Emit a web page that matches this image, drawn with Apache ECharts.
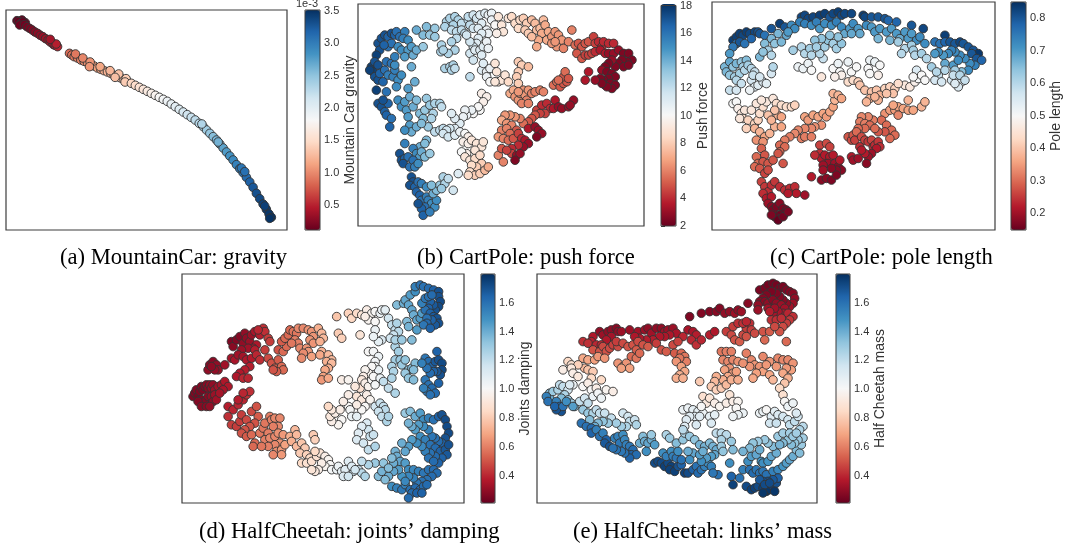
<!DOCTYPE html>
<html><head><meta charset="utf-8">
<script src="https://cdn.jsdelivr.net/npm/echarts@6/dist/echarts.min.js"></script>
<style>html,body{margin:0;padding:0;background:#fff}#c{width:1065px;height:543px}</style>
</head><body><div id="c"></div>
<script>
// RdBu colormap (low = red, high = blue)
const RDBU = ['#67001f','#b2182b','#d6604d','#f4a582','#fddbc7','#f7f7f7','#d1e5f0','#92c5de','#4393c3','#2166ac','#053061'];

// ---- data: [embedding x, embedding y, parameter value] ----
const mountainCarGravity = [
[50,62,0.11],[65,60,0.12],[75,68,0.14],[55,65,0.12],[62,70,0.13],[68,66,0.12],[58,75,0.15],[72,74,0.16],[80,80,0.18],[88,85,0.2],[96,90,0.23],[104,96,0.26],[112,100,0.28],[120,106,0.3],[128,110,0.32],[136,116,0.35],[144,120,0.38],[150,126,0.4],[160,134,0.44],[158,130,0.43],[165,136,0.46],[172,140,0.5],[168,132,0.48],[150,118,0.39],
[208,160,0.85],[215,165,0.88],[222,170,0.9],[232,174,0.93],[242,180,0.97],[252,184,1.0],[262,188,1.03],[272,194,1.06],[282,198,1.1],[292,204,1.13],[302,208,1.16],[312,212,1.19],[322,216,1.22],[332,220,1.25],[342,226,1.28],[352,230,1.31],[362,234,1.34],[372,240,1.37],[382,244,1.4],
[226,162,0.91],[248,174,0.98],[270,186,1.05],[300,200,1.15],[330,212,1.24],[356,222,1.32],[378,236,1.39],[268,200,1.06],[345,232,1.3],[375,246,1.38],
[394,250,1.45],[406,256,1.5],[418,262,1.55],[430,268,1.6],[442,274,1.65],[454,280,1.7],[466,286,1.75],[478,292,1.8],[490,298,1.85],[502,304,1.9],[514,312,1.95],[526,320,2.0],[538,328,2.05],[550,336,2.1],[562,344,2.15],[574,352,2.2],[586,360,2.25],[598,370,2.3],[610,380,2.36],[620,390,2.42],[630,400,2.48],[640,410,2.54],[650,420,2.6],[660,432,2.66],[670,444,2.72],[680,456,2.78],[690,468,2.84],[700,480,2.9],[710,494,2.96],[720,506,3.02],[730,518,3.08],[740,532,3.14],[750,546,3.2],[760,562,3.26],[770,580,3.31],[780,596,3.36],[790,612,3.4],[800,628,3.44],[808,642,3.47],[815,652,3.5],
[606,372,2.33],[655,426,2.63],[725,504,3.05],[735,515,3.1],[795,618,3.42],[810,655,3.5]
];

const cartPolePushForce = [
[70,130,17],[80,115,17],[90,105,17],[100,110,16.5],[110,100,17],[120,105,16.5],[125,95,16],[135,110,16],[150,95,15.5],[145,115,15.5],[160,120,15],[100,140,16],[110,130,16],[75,150,17],[88,135,16.5],[65,165,17.5],
[50,200,17.5],[55,215,17.5],[45,210,17.5],[60,185,17],[70,195,17],[60,230,17],[70,240,17],[65,270,17.5],[85,245,16.5],[75,220,16.5],[90,210,16],[95,185,16],[110,190,16],[100,225,15.5],[115,230,15.5],[120,210,15.5],
[130,240,15],[140,225,15],[125,260,15],[95,275,16],[120,195,15],[130,140,15],[140,150,15],[120,170,15.5],[160,150,14.5],[150,170,14.5],[175,165,14],[170,140,14.5],[185,150,14],[170,200,14],[180,245,14],[160,265,14.5],
[185,90,14],[205,140,13],[205,105,13.5],[215,80,13.5],[225,105,13],[240,85,13],[240,110,13],[258,155,12.5],[260,135,12.5],
[70,310,17],[80,320,17],[90,335,16.5],[95,345,16.5],[100,310,16.5],[110,355,16],[105,380,16.5],[85,300,17],
[130,300,15],[140,320,15],[150,305,14.5],[155,330,14.5],[160,350,14.5],[165,375,14.5],[170,395,14],[185,380,14],[150,390,15],[175,320,14],[165,290,14],[185,300,13.5],[195,340,13.5],[210,330,13],[205,355,13.5],[215,295,13],[225,315,13],[235,340,12.5],[220,380,13],[200,370,13.5],[240,310,12.5],[255,310,12.5],[260,320,12],[230,355,12.5],[240,395,12],[255,390,12],[265,385,12],[215,420,13.5],[195,440,14],[210,430,13.5],
[150,430,15.5],[135,460,17],[140,480,17],[150,475,16.5],[160,470,16],[145,490,17],[165,500,16],[175,445,15.5],[185,460,15],[195,470,14.5],[200,455,14],[175,480,16],[180,500,15.5],[190,490,15],[210,470,13.5],[225,460,13],[170,530,17],[175,545,17],[165,555,17],[180,560,16.5],[190,545,16],[200,550,15.5],[185,575,16.5],[195,585,16.5],[200,600,16],[215,590,15.5],[220,600,15.5],[230,610,15],[240,620,15],[245,600,15],[210,620,16],[200,625,16.5],[190,610,17],[205,645,16.5],[225,635,15.5],[235,580,14],[245,570,13.5],[255,555,13],[265,530,12.5],[270,550,12.5],[215,560,15],[230,555,13.5],[260,565,13],[280,535,12],[295,570,11.5],
[275,65,12.5],[285,55,12.5],[300,50,12.5],[310,60,12.5],[320,70,12],[295,75,12.5],[270,80,12.5],[290,90,12],[305,95,12],[320,90,12],[330,100,12],[340,60,12],[345,75,12],[355,85,11.5],[340,50,12],[355,45,11.5],[365,55,11.5],[375,45,11],[380,70,11],[370,85,11],[390,40,11],[400,45,10.5],[410,40,10.5],[410,60,10.5],[420,75,10],[395,90,10.5],[400,100,10.5],[380,100,11],[370,115,11],[365,130,11],[355,140,11.5],[345,125,11.5],[335,105,11.5],[305,115,12],[290,125,12.5],[300,150,12.5],[280,160,12.5],[265,150,12.5],[345,160,11.5],[360,150,11],[375,150,11],[385,140,11],[395,125,10.5],[400,145,10.5],[380,165,11],[355,180,11.5],
[270,205,12.5],[285,200,12.5],[295,195,12.5],[290,210,12.5],[300,205,12],[345,230,12],
[380,210,11],[385,190,11],[395,215,10.5],[405,205,10.5],[395,230,10.5],[405,245,10],
[430,50,9],[440,75,9],[445,95,9],[425,100,9.5],[460,55,9],[470,50,8.5],[480,70,8.5],[490,85,8.5],[495,60,8.5],[505,55,8],[515,70,8],[510,90,8],[520,100,8],[530,60,7.5],[540,70,7.5],[545,90,7.5],[555,85,7.5],[560,100,7],[550,120,7],[565,60,7.5],[570,75,7],[580,95,7],[575,120,7],[545,140,7],[590,110,6.5],[600,95,6.5],[610,105,6.5],[620,120,6.5],[605,140,6.5],[625,145,6],[640,125,6],[650,90,6],[660,135,5.5],[590,130,6.5],[600,125,6.5],[530,110,7.5],
[670,130,5],[680,140,5],[690,130,5],[700,125,5],[715,110,4.5],[720,130,4.5],[730,125,4],[740,140,4],[745,125,4],[760,130,4],[775,130,4],[665,160,5],[680,175,5],[690,165,4.5],[700,165,4.5],[710,160,4.5],[720,155,4],[735,150,3.5],[750,160,3.5],[760,160,3],[775,160,3],[790,150,3],[805,160,2.5],[820,160,2.5],[830,180,2.5],[815,185,2.5],[800,180,2.5],[790,190,2.5],[805,200,2.5],[820,195,2.5],[780,200,2.5],[770,180,3],[760,190,2.5],[750,200,2.5],[740,210,3],[755,215,2.5],[770,220,2.5],[780,230,2.5],[760,235,2.5],[745,240,2.5],[735,235,2.5],[750,255,2.5],[765,250,2.5],[780,255,2.5],[770,265,2.5],[755,260,2.5],[740,250,2.5],[700,215,3.5],[690,240,3.5],[720,240,3],
[420,190,9],[425,215,9],[430,245,9],[440,240,9],[450,225,9],[460,245,8.5],[420,245,9],[490,185,8],[500,195,8],[520,200,7.5],[490,215,8],[485,230,8],[490,250,8],
[380,280,9.5],[395,290,9.5],[385,305,9.5],[375,330,10],[370,320,10],[355,340,10],[350,330,10.5],[335,345,10.5],[330,330,10.5],[325,350,10.5],[315,370,11],[300,355,11],[290,340,11],[300,385,11],[285,385,11.5],[275,390,11.5],[265,400,11.5],[280,410,11.5],[300,405,11],[315,395,10.5],[330,400,10],[340,410,9.5],[325,425,9.5],[340,430,9.5],[350,420,9],[365,430,9],[380,440,9],[385,425,9],[360,450,9],[335,460,9.5],[320,455,10],[330,470,9],[345,480,9],[360,475,8.5],[375,465,8.5],[380,490,8],[365,500,8],[350,495,8.5],[345,515,8.5],[360,525,8],[375,520,8],[390,510,7.5],[400,500,7],[340,525,8.5],[310,520,11],
[465,280,7],[475,270,7],[480,290,6.5],[490,300,6.5],[495,280,6.5],[505,270,6.5],[510,285,6.5],[515,300,6],[520,270,6.5],[530,280,6],[540,275,6],[555,270,6],[565,275,6],[490,275,6.5],[500,310,6],[520,310,6],
[595,255,5.5],[605,245,5.5],[615,260,5],[625,250,5],[635,245,5],[625,230,5],[630,215,5.5],[640,235,5],[610,240,5.5],
[545,330,4.5],[560,315,4],[575,310,4],[585,325,4],[570,340,4.5],[555,340,4.5],[540,345,5],[530,355,5],[520,365,5],[505,370,5.5],[495,355,6],[480,350,6.5],[465,345,6.5],[450,345,6.5],[440,360,7],[455,370,6.5],[470,375,6],[485,390,5],[440,390,6],[455,385,6],[465,400,5.5],[430,410,6.5],[445,415,6],[460,420,5.5],[475,415,5],[490,400,4.5],[500,415,4],[510,420,3.5],[520,430,3],[505,440,3],[490,435,4],[520,385,3.5],[540,380,3],[550,390,3],[560,400,3],[545,410,2.5],[600,300,3.5],[595,325,3.5],[610,320,3],[620,325,3],[640,320,3],[655,300,3],[645,315,3],
[430,465,6],[440,445,5],[445,485,6],[470,445,4],[470,460,4.5],[485,465,3],[495,460,3],[480,480,2.5],[455,450,4.5]
];

const cartPolePoleLength = [
[290,50,0.82],[300,45,0.82],[310,55,0.82],[325,50,0.82],[345,45,0.83],[360,40,0.83],[375,50,0.8],[385,40,0.82],[400,35,0.83],[410,45,0.82],[420,40,0.82],[440,40,0.82],[475,45,0.83],[480,50,0.82],[500,50,0.8],[520,50,0.8],[540,55,0.8],[550,60,0.78],[575,65,0.78],[620,75,0.8],[655,85,0.82],[225,70,0.83],[240,80,0.8],[200,85,0.8],
[85,120,0.83],[95,110,0.83],[105,100,0.83],[115,105,0.82],[125,95,0.83],[135,100,0.82],[150,95,0.82],[160,95,0.8],[165,100,0.8],[180,105,0.76],[95,130,0.77],[105,125,0.8],[120,130,0.76],[85,140,0.75],[75,160,0.7],[140,115,0.78],
[260,75,0.72],[270,85,0.72],[285,65,0.74],[300,70,0.74],[320,75,0.72],[335,65,0.74],[345,85,0.7],[360,70,0.72],[380,75,0.72],[395,65,0.74],[410,80,0.72],[420,100,0.68],[435,85,0.7],[445,70,0.72],[460,85,0.7],[465,100,0.68],[485,75,0.72],[500,80,0.7],[510,95,0.7],[525,85,0.7],[545,95,0.7],[560,85,0.7],[575,100,0.7],[585,115,0.68],[600,95,0.7],[610,115,0.7],[620,100,0.7],[635,120,0.72],[645,110,0.72],[660,130,0.72],[555,120,0.66],[520,115,0.66],[440,100,0.68],
[690,125,0.76],[705,130,0.76],[720,105,0.83],[720,125,0.78],[735,125,0.8],[750,130,0.8],[765,125,0.82],[775,130,0.8],[790,140,0.8],[805,150,0.8],[820,160,0.84],[800,160,0.8],[815,175,0.8],[830,180,0.78],[810,195,0.74],[795,190,0.72],[780,175,0.72],[765,165,0.72],[750,155,0.72],[740,150,0.74],[730,160,0.72],[715,165,0.7],[700,155,0.72],[690,160,0.7],[720,190,0.68],[745,195,0.7],[760,180,0.72],[790,210,0.72],[770,215,0.65],[750,210,0.62],
[740,240,0.56],[755,235,0.56],[770,245,0.55],[760,260,0.55],[750,250,0.55],[745,225,0.58],[765,225,0.6],[780,240,0.58],[700,225,0.58],[690,240,0.56],[710,245,0.56],[680,200,0.62],[695,215,0.6],[720,210,0.6],
[220,100,0.66],[245,105,0.68],[250,95,0.7],[200,115,0.66],[210,130,0.64],[180,130,0.65],[190,150,0.62],[200,165,0.6],[165,170,0.66],[175,155,0.64],[230,125,0.66],[265,150,0.62],[290,140,0.6],[300,160,0.6],[315,145,0.62],[320,165,0.6],[355,175,0.58],[345,160,0.6],[360,140,0.62],[370,120,0.64],[385,130,0.62],[395,145,0.62],[410,130,0.64],[400,110,0.64],[375,105,0.64],[350,115,0.64],[330,120,0.64],[335,140,0.62],[580,125,0.62],[600,145,0.6],[620,135,0.62],[625,150,0.62],[630,165,0.6],[650,160,0.62],[665,175,0.6],[590,160,0.6],
[60,200,0.66],[65,215,0.66],[75,185,0.68],[85,200,0.64],[95,190,0.66],[110,185,0.64],[125,180,0.65],[115,200,0.62],[75,225,0.64],[90,230,0.62],[105,220,0.62],[120,210,0.6],[130,195,0.62],[140,205,0.6],[150,215,0.58],[95,240,0.6],[110,250,0.58],[75,270,0.58],[95,270,0.56],[140,240,0.56],[150,260,0.54],[160,255,0.54],[175,245,0.55],[135,270,0.52],[145,225,0.58],[165,230,0.56],[185,250,0.54],[200,220,0.56],[205,200,0.6],
[280,200,0.52],[295,205,0.52],[310,190,0.52],[320,210,0.5],[350,230,0.46],[385,205,0.5],[400,190,0.52],[405,215,0.5],[410,225,0.48],[390,230,0.48],[430,185,0.52],[440,215,0.5],[455,200,0.5],[495,180,0.52],[510,185,0.52],[525,195,0.5],[490,205,0.5],[495,220,0.5],[520,225,0.48],[600,255,0.46],[615,260,0.46],[630,245,0.48],[640,235,0.5],[635,210,0.55],[650,225,0.5],[660,240,0.5],[625,230,0.5],
[430,245,0.44],[445,240,0.44],[460,245,0.42],[465,255,0.4],[480,270,0.4],[500,275,0.4],[515,270,0.4],[525,285,0.38],[540,265,0.42],[555,260,0.42],[570,265,0.42],[565,280,0.4],[545,280,0.4],[520,300,0.38],[495,295,0.38],[485,305,0.38],[510,290,0.38],[580,250,0.44],
[85,310,0.5],[95,305,0.5],[100,325,0.48],[110,340,0.46],[120,330,0.46],[115,355,0.44],[105,355,0.46],[130,360,0.42],[125,385,0.42],[150,370,0.42],[160,360,0.42],[165,340,0.44],[175,320,0.44],[185,305,0.46],[205,295,0.46],[215,310,0.44],[230,315,0.44],[245,320,0.44],[260,320,0.44],[270,315,0.42],[140,330,0.46],[155,310,0.46],[170,300,0.46],
[150,385,0.38],[165,395,0.38],[180,410,0.36],[195,400,0.38],[210,380,0.38],[220,345,0.38],[210,330,0.4],[190,345,0.4],[200,360,0.38],[230,350,0.36],[230,380,0.36],[155,420,0.34],[175,425,0.34],
[300,350,0.36],[310,360,0.35],[325,345,0.36],[340,350,0.36],[355,340,0.36],[365,350,0.35],[350,375,0.34],[330,380,0.34],[375,335,0.36],[385,320,0.36],[390,300,0.38],[385,280,0.38],[400,285,0.38],[410,295,0.36],[320,385,0.33],[300,385,0.33],[280,390,0.33],[290,415,0.32],[300,410,0.32],[320,410,0.32],[270,400,0.33],[255,410,0.32],[240,420,0.32],[225,435,0.3],[240,440,0.3],[225,455,0.3],
[540,340,0.34],[555,330,0.35],[570,330,0.35],[580,320,0.36],[595,325,0.36],[610,330,0.36],[625,330,0.36],[650,320,0.38],[660,305,0.38],[610,300,0.38],[565,315,0.36],[580,345,0.33],[530,360,0.3],[545,375,0.3],[560,390,0.3],[570,405,0.3],[555,415,0.3],[540,395,0.28],[520,395,0.28],[505,360,0.32],[490,350,0.33],[470,350,0.33],[465,365,0.32],[480,370,0.32],[495,375,0.3],[510,385,0.3],[480,385,0.3],[460,385,0.3],
[170,445,0.29],[180,465,0.28],[155,470,0.3],[160,490,0.3],[175,485,0.28],[190,490,0.28],[205,480,0.28],[220,460,0.28],[235,490,0.28],[150,500,0.3],[165,505,0.28],[180,520,0.26],[190,510,0.27],[170,545,0.26],[180,560,0.25],[190,575,0.24],[200,555,0.24],[210,545,0.25],[175,580,0.24],[185,595,0.22],[200,590,0.22],[225,560,0.24],[240,570,0.24],[255,565,0.24],[270,560,0.24],[275,580,0.22],[300,585,0.2],[250,580,0.22],[320,530,0.22],
[345,435,0.26],[365,430,0.27],[375,440,0.26],[345,460,0.24],[350,475,0.22],[360,465,0.22],[375,470,0.22],[385,465,0.22],[370,490,0.2],[355,495,0.2],[390,490,0.2],[400,500,0.18],[410,510,0.18],[395,510,0.18],[380,505,0.18],[405,480,0.22],[350,540,0.18],[365,535,0.18],[380,540,0.17],[395,525,0.17],[355,510,0.2],[330,465,0.24],
[430,410,0.28],[440,420,0.27],[445,405,0.28],[450,420,0.26],[455,395,0.3],[465,440,0.24],[470,410,0.27],[480,420,0.26],[490,425,0.25],[500,420,0.26],[505,440,0.24],[510,435,0.24],[520,425,0.25],[525,440,0.24],[515,445,0.22],[500,460,0.2],[490,470,0.2],[480,460,0.22],[470,450,0.22],[440,470,0.22],[445,480,0.2],[460,475,0.2],[485,490,0.18],
[190,610,0.2],[200,620,0.18],[205,630,0.17],[215,620,0.17],[225,610,0.18],[235,625,0.17],[245,630,0.17],[240,640,0.16],[225,645,0.16],[210,650,0.16],[220,660,0.15],[235,650,0.16],[250,635,0.17],[200,645,0.17]
];

const halfCheetahDamping = [
[55,380,0.26],[60,370,0.26],[65,360,0.27],[70,380,0.25],[75,365,0.26],[80,350,0.27],[85,360,0.26],[90,350,0.27],[95,345,0.28],[100,355,0.28],[105,345,0.3],[110,355,0.3],[115,345,0.3],[120,360,0.32],[80,390,0.26],[90,395,0.27],[100,380,0.28],[110,380,0.3],[115,395,0.3],[70,395,0.27],[80,410,0.28],[95,410,0.28],[105,410,0.3],[120,375,0.32],[125,390,0.33],[130,350,0.33],[140,345,0.34],[150,335,0.36],[160,350,0.36],[145,360,0.35],[135,370,0.34],
[100,300,0.3],[105,285,0.28],[115,275,0.28],[125,285,0.3],[130,300,0.32],[120,300,0.3],[110,290,0.29],[150,285,0.33],[170,265,0.34],[180,270,0.35],[170,215,0.26],[175,230,0.28],[185,210,0.27],[195,200,0.27],[205,220,0.3],[210,190,0.3],[215,205,0.3],[225,215,0.32],[230,195,0.32],[240,185,0.35],[255,195,0.38],[245,225,0.36],[235,235,0.34],[220,235,0.33],[200,240,0.32],[190,255,0.33],[205,260,0.34],[215,270,0.36],[230,265,0.37],[225,290,0.38],[210,300,0.38],[195,310,0.37],[185,320,0.36],[205,325,0.4],[220,325,0.4],[240,240,0.38],[245,255,0.4],[255,270,0.42],[265,175,0.42],[270,185,0.42],[250,180,0.4],[280,205,0.45],[285,215,0.45],
[270,240,0.45],[280,265,0.48],[290,280,0.5],[300,295,0.52],[310,270,0.52],[320,290,0.55],[325,300,0.55],[305,305,0.52],[295,300,0.5],[310,240,0.5],[325,245,0.55],[335,230,0.55],[320,215,0.52],[330,205,0.55],[340,195,0.55],[345,180,0.55],[355,185,0.58],[365,190,0.58],[360,210,0.6],[370,220,0.6],[375,235,0.62],[350,220,0.58],[370,175,0.62],[385,175,0.62],[400,180,0.65],[410,185,0.65],[415,200,0.65],[405,210,0.65],[415,220,0.65],[395,235,0.65],[400,245,0.65],[385,250,0.63],[380,265,0.63],[410,260,0.68],
[430,175,0.72],[440,190,0.74],[445,205,0.75],[435,215,0.72],[440,245,0.72],[435,255,0.7],[460,255,0.75],[470,270,0.75],[455,275,0.72],[470,280,0.75],[460,295,0.72],[450,300,0.7],[445,320,0.68],[440,330,0.66],[460,325,0.7],[485,140,0.78],[490,190,0.8],[500,205,0.82],[520,130,0.82],[530,145,0.84],[545,130,0.86],[560,135,0.9],[555,195,0.9],
[575,120,0.95],[590,130,0.98],[600,125,1.0],[615,130,1.05],[620,120,1.05],[630,120,1.08],[580,150,0.98],[600,155,1.0],[570,140,0.95],[640,145,1.15],[650,165,1.2],[660,180,1.2],[665,160,1.25],[670,185,1.22],[655,195,1.18],[645,205,1.15],[620,210,1.12],[610,215,1.08],[600,180,1.05],[595,200,1.05],[580,245,1.0],[595,245,1.02],[610,260,1.05],[600,275,1.03],[600,290,1.02],[610,300,1.05],[590,290,1.0],[580,310,0.98],[570,300,0.98],[565,320,0.95],[560,330,0.92],[555,355,0.88],[570,340,0.95],[580,350,0.97],[590,330,1.0],[595,320,1.0],[600,345,1.02],[615,325,1.05],[545,380,0.9],[560,390,0.92],[575,375,0.95],[585,390,0.98],[570,410,1.0],[560,420,1.0],[545,405,0.95],
[660,230,1.25],[670,245,1.28],[660,270,1.28],[675,270,1.3],[680,285,1.3],[690,270,1.32],[700,300,1.32],[710,295,1.35],[720,280,1.35],[715,300,1.35],[690,310,1.3],[700,325,1.32],[715,330,1.35],[650,290,1.25],[655,305,1.25],[650,325,1.25],[625,335,1.2],[640,355,1.2],[660,370,1.25],[660,210,1.25],[680,210,1.3],
[665,105,1.35],[685,100,1.4],[690,90,1.42],[700,105,1.42],[705,75,1.45],[720,65,1.5],[710,120,1.42],[715,135,1.4],[725,150,1.42],[735,145,1.45],[740,130,1.45],[695,155,1.35],[700,170,1.38],[725,180,1.45],[710,210,1.35],
[720,50,1.55],[735,45,1.6],[745,50,1.6],[760,55,1.62],[775,60,1.65],[790,65,1.7],[790,80,1.7],[795,95,1.72],[790,110,1.72],[780,120,1.7],[775,105,1.68],[765,95,1.65],[760,115,1.65],[750,120,1.6],[765,130,1.65],[775,140,1.68],[785,145,1.7],[790,160,1.7],[780,165,1.68],[770,150,1.65],[755,145,1.6],[755,160,1.62],[745,165,1.58],[765,175,1.65],[740,100,1.55],[750,85,1.58],[760,80,1.6],[770,75,1.62],
[750,265,1.58],[760,275,1.62],[770,290,1.65],[780,275,1.68],[785,245,1.65],[790,270,1.7],[800,280,1.72],[800,300,1.72],[795,315,1.7],[785,305,1.68],[775,305,1.65],[765,310,1.62],[755,295,1.6],[740,280,1.55],[750,330,1.58],[760,345,1.6],[770,355,1.62],[790,340,1.65],[780,370,1.62],[755,365,1.58],[765,375,1.6],[745,355,1.55],
[500,330,0.95],[520,330,0.98],[520,410,1.0],[525,420,1.02],[530,440,1.05],[545,440,1.08],[500,450,1.0],[490,465,0.98],[470,455,0.95],[465,440,0.92],[480,430,0.95],[495,420,0.95],[470,420,0.92],[460,410,0.85],[505,395,0.95],[520,375,0.95],[540,350,0.92],
[600,410,1.15],[615,400,1.18],[625,410,1.2],[630,420,1.22],[610,425,1.18],[620,440,1.2],[635,455,1.25],[640,440,1.25],[575,460,1.12],[580,480,1.15],[585,500,1.18],[595,495,1.18],[560,470,1.1],[550,490,1.1],[545,510,1.12],[565,520,1.15],[580,540,1.2],[600,530,1.25],[600,580,1.3],[580,585,1.25],[560,575,1.2],[550,600,1.18],[535,605,1.15],[560,610,1.22],[570,620,1.25],[610,620,1.35],[620,605,1.38],
[690,430,1.3],[705,425,1.35],[720,440,1.4],[735,430,1.45],[745,450,1.5],[760,445,1.55],[775,450,1.6],[790,440,1.65],[800,435,1.7],[810,450,1.72],[815,470,1.72],[820,490,1.72],[810,505,1.7],[800,520,1.65],[790,515,1.62],[780,505,1.6],[770,500,1.58],[760,480,1.55],[745,470,1.5],[730,465,1.45],[720,480,1.45],[710,470,1.4],[700,460,1.38],[735,500,1.5],[750,510,1.55],[765,525,1.6],[780,535,1.62],[795,545,1.65],[810,540,1.68],[820,525,1.7],[815,555,1.68],[800,565,1.65],[790,580,1.65],[780,560,1.62],[765,550,1.6],[750,545,1.55],[740,530,1.52],[725,520,1.5],[710,510,1.45],[700,530,1.45],[690,545,1.42],[680,520,1.4],[660,545,1.38],[665,560,1.4],[675,575,1.42],[690,580,1.45],[700,600,1.5],[715,600,1.52],[730,605,1.55],[745,610,1.58],[760,600,1.6],[775,600,1.62],[785,610,1.62],[770,620,1.62],[755,630,1.6],[740,635,1.6],[725,640,1.58],[715,625,1.55],[700,620,1.52],[680,620,1.48],[670,600,1.45],[655,605,1.42],[640,620,1.4],[650,650,1.5],[665,655,1.55],[680,660,1.58],[690,645,1.55],[705,660,1.6],[720,655,1.62],[735,660,1.62],[745,650,1.62],[755,645,1.62],[710,670,1.62],[725,670,1.65],[740,670,1.65],[700,685,1.62],[690,635,1.52],[760,565,1.6],[775,575,1.62],[655,580,1.4],[650,565,1.35],[625,580,1.32],[630,630,1.35],[640,595,1.35],
[160,410,0.38],[175,420,0.4],[190,405,0.4],[205,390,0.4],[215,375,0.42],[225,365,0.42],[205,370,0.4],[190,390,0.38],[160,440,0.42],[170,465,0.45],[185,470,0.45],[195,455,0.45],[200,435,0.45],[215,450,0.48],[230,425,0.48],[245,410,0.5],[250,440,0.52],[240,460,0.5],[225,470,0.5],[210,480,0.5],[200,490,0.5],[215,500,0.52],[230,495,0.55],[240,520,0.55],[235,530,0.55],[255,490,0.58],[265,475,0.58],[270,460,0.58],[285,440,0.6],[290,450,0.6],[300,445,0.62],[315,445,0.62],[310,470,0.62],[295,470,0.6],[280,490,0.6],[270,510,0.6],[285,505,0.62],[300,500,0.62],[310,490,0.64],[325,495,0.66],[315,520,0.64],[300,525,0.62],[305,545,0.64],[320,540,0.66],[330,525,0.68],[320,555,0.66],[295,555,0.62],[280,530,0.6],[260,530,0.58],[345,500,0.72],[360,480,0.75],[365,495,0.75],[350,515,0.72],[365,530,0.75],[380,520,0.78],[390,535,0.8],[375,550,0.8],[395,555,0.82],[405,565,0.85],[380,580,0.85],[395,580,0.88],[410,575,0.88],[425,560,0.88],[435,550,0.9],[420,545,0.85],[415,495,0.8],[420,510,0.82],[450,560,0.95],[460,570,0.98],[465,585,1.0],[450,590,0.98],[440,580,0.95],[430,600,0.95],[420,605,0.92],[410,600,0.9],[470,600,1.02],[485,600,1.05],[490,590,1.05],[500,605,1.08],[510,600,1.1],[520,575,1.1],[530,590,1.12],[505,620,1.12],[520,620,1.15],[540,600,1.15]
];

const halfCheetahMass = [
[690,60,0.25],[705,55,0.25],[715,45,0.24],[730,40,0.24],[740,45,0.24],[750,55,0.25],[760,50,0.25],[770,60,0.26],[780,65,0.27],[790,70,0.28],[795,85,0.3],[790,100,0.32],[780,110,0.33],[770,100,0.3],[760,90,0.28],[750,80,0.27],[740,70,0.26],[725,65,0.25],[710,75,0.26],[700,85,0.27],[690,95,0.28],[705,95,0.28],[715,100,0.3],[730,90,0.28],[740,100,0.3],[755,105,0.32],[765,115,0.33],[760,130,0.36],[745,125,0.35],[730,130,0.35],[715,115,0.33],[735,115,0.33],
[775,130,0.4],[790,140,0.42],[780,150,0.44],[770,160,0.45],[760,170,0.48],[750,185,0.5],[720,125,0.38],[725,150,0.42],[740,150,0.42],[755,145,0.42],
[480,140,0.26],[515,130,0.27],[540,125,0.27],[560,125,0.28],[570,115,0.27],[585,130,0.3],[600,125,0.3],[615,130,0.32],[625,120,0.3],[635,125,0.32],[655,100,0.28],[685,105,0.3],[685,120,0.32],
[210,185,0.3],[220,195,0.32],[235,185,0.3],[245,180,0.3],[260,175,0.28],[265,185,0.3],[275,185,0.32],[245,200,0.34],[230,210,0.36],[190,200,0.36],[185,215,0.38],[160,215,0.42],[175,220,0.42],[200,225,0.4],[215,225,0.4],
[325,185,0.33],[345,180,0.32],[355,175,0.3],[365,190,0.33],[380,175,0.3],[395,175,0.3],[405,185,0.33],[415,180,0.32],[430,175,0.32],[440,190,0.35],[420,195,0.36],[405,200,0.36],[390,200,0.36],[370,210,0.38],[350,210,0.38],[330,205,0.36],[300,180,0.32],[315,200,0.36],
[475,180,0.35],[490,185,0.35],[500,195,0.38],[485,210,0.4],[500,225,0.42],[515,210,0.4],[540,195,0.38],[555,185,0.36],[460,200,0.4],
[190,240,0.5],[210,245,0.5],[220,230,0.48],[230,245,0.5],[240,235,0.48],[250,225,0.46],[265,230,0.48],[260,215,0.45],[280,220,0.48],[295,230,0.5],[310,225,0.5],[325,215,0.48],[320,240,0.52],[340,225,0.5],[355,230,0.52],[305,260,0.55],[320,265,0.58],[330,250,0.55],
[380,220,0.45],[395,240,0.5],[410,245,0.52],[430,225,0.48],[445,215,0.46],[435,250,0.52],[455,250,0.55],[465,260,0.58],[470,275,0.6],[450,265,0.58],[590,185,0.45],[605,195,0.48],[615,210,0.5],[630,215,0.52],[640,195,0.48],[650,175,0.45],[660,160,0.42],[665,180,0.45],[675,190,0.48],[650,200,0.5],[610,170,0.45],[625,160,0.42],[640,160,0.42],[650,155,0.4],[700,185,0.5],[720,185,0.52],[705,210,0.55],[735,170,0.48],[770,215,0.55],
[160,265,0.7],[175,270,0.7],[195,270,0.68],[205,260,0.65],[225,265,0.65],[265,280,0.65],[280,290,0.68],[290,280,0.65],[300,295,0.68],[275,295,0.68],[165,295,0.75],[175,300,0.78],[190,305,0.8],[185,325,0.85],[215,330,0.85],[440,275,0.65],[455,290,0.68],[465,305,0.7],[450,315,0.72],[440,325,0.72],[460,325,0.72],[575,245,0.58],[590,245,0.6],[605,245,0.6],[580,270,0.62],[595,275,0.62],[610,270,0.62],[625,275,0.64],[600,295,0.65],[585,300,0.68],[610,310,0.68],[595,320,0.7],[580,330,0.72],[560,320,0.72],[555,335,0.75],[545,350,0.8],[560,360,0.82],[575,355,0.8],[590,345,0.75],[605,330,0.72],[625,330,0.72],[620,305,0.68],[650,250,0.6],[665,270,0.62],[675,285,0.65],[690,290,0.65],[700,305,0.68],[680,310,0.68],[670,325,0.7],[660,290,0.65],[640,280,0.64],[700,260,0.62],[720,275,0.65],[710,285,0.66],[745,265,0.62],[760,270,0.62],[775,270,0.62],[790,280,0.65],[785,300,0.68],[770,295,0.66],[760,310,0.7],[775,325,0.72],[765,340,0.78],[750,355,0.85],[760,375,0.88],[720,315,0.7],[730,330,0.75],[740,290,0.66],[510,335,0.8],
[115,275,0.85],[125,285,0.88],[145,285,0.82],[100,300,0.95],[125,295,0.92],[130,310,0.95],[145,320,0.92],[130,345,1.05],[160,350,1.0],[175,340,0.95],[185,360,1.0],[200,355,0.95],[190,380,1.05],[205,370,1.02],[215,385,1.05],[230,360,0.98],[250,365,0.95],[520,380,0.88],[530,400,0.92],[540,385,0.9],[555,400,0.95],[570,410,0.98],[590,400,0.95],[600,375,0.9],[610,395,0.95],[625,395,0.98],[620,415,1.0],[640,430,1.05],[625,435,1.05],[610,440,1.05],[460,420,1.05],[475,415,1.05],[490,420,1.08],[505,425,1.08],[495,440,1.1],[480,440,1.1],[470,450,1.1],[465,470,1.1],[500,465,1.12],[520,430,1.05],[540,440,1.08],[555,435,1.08],[545,460,1.12],[515,410,1.0],[510,440,1.1],[690,430,1.05],[700,425,1.05],[710,420,1.0],[725,440,1.1],[735,425,1.08],[745,435,1.12],[760,440,1.15],[775,450,1.15],[780,465,1.2],[795,455,1.2],[805,440,1.15],[820,470,1.22],[810,480,1.25],[765,395,1.0],[775,410,1.05],[790,400,1.05],[800,430,1.12],[720,460,1.15],[740,460,1.18],
[60,370,1.35],[60,385,1.4],[70,365,1.3],[85,360,1.25],[90,345,1.2],[100,350,1.2],[115,360,1.15],[120,345,1.12],[105,375,1.25],[95,385,1.35],[115,390,1.3],[125,400,1.3],[135,410,1.35],[150,395,1.2],[165,385,1.15],[175,400,1.2],[160,420,1.3],[175,430,1.3],[190,430,1.25],[200,420,1.2],[210,430,1.2],[225,430,1.18],[245,445,1.2],[280,430,1.15],[295,440,1.15],[300,455,1.2],[315,450,1.18],[320,465,1.25],[290,470,1.25],[275,470,1.28],[260,460,1.28],[235,460,1.3],[220,455,1.32],[205,460,1.35],[195,470,1.4],[180,450,1.35],
[50,380,1.55],[55,395,1.6],[80,395,1.55],[90,410,1.65],[95,425,1.7],[80,420,1.7],[75,410,1.65],[100,410,1.6],[110,395,1.5],[130,410,1.45],
[155,460,1.6],[170,470,1.6],[185,475,1.62],[185,490,1.65],[200,480,1.55],[210,500,1.6],[220,490,1.55],[230,510,1.65],[225,520,1.68],[240,530,1.7],[255,505,1.55],[265,500,1.55],[270,520,1.58],[280,495,1.5],[285,510,1.52],[290,525,1.55],[300,530,1.58],[310,540,1.62],[305,555,1.65],[320,555,1.62],[300,565,1.65],[285,550,1.6],[275,545,1.58],[260,540,1.6],[250,535,1.6],[330,520,1.4],[340,500,1.35],[345,515,1.4],[355,520,1.42],[365,510,1.4],[375,525,1.45],[350,545,1.5],[375,580,1.72],[385,575,1.72],[395,580,1.72],[405,590,1.75],[415,580,1.72],[425,590,1.75],[420,600,1.75],[435,605,1.75],[445,590,1.7],[455,585,1.65],[465,610,1.75],[475,610,1.72],[490,600,1.65],[500,590,1.6],[505,610,1.62],[515,600,1.6],[525,590,1.55],[535,580,1.5],[545,590,1.55],[565,615,1.6],[550,610,1.58],[400,550,1.5],[410,560,1.55],[425,545,1.5],[430,560,1.55],[440,565,1.58],[455,570,1.6],[445,545,1.5],[365,495,1.3],[410,495,1.25],[420,505,1.3],[440,520,1.35],[460,510,1.32],[465,490,1.25],[460,480,1.22],[480,500,1.3],[495,510,1.32],[510,525,1.38],[525,530,1.38],[540,520,1.35],[550,530,1.38],[560,540,1.4],[555,555,1.42],[545,560,1.45],[530,565,1.45],[515,575,1.5],[490,550,1.42],[475,545,1.4],[480,570,1.5],[510,555,1.45],[520,545,1.4],[560,490,1.2],[575,490,1.2],[590,495,1.22],[575,510,1.25],[575,530,1.3],[580,545,1.32],[605,515,1.3],[610,540,1.35],[600,580,1.5],[605,620,1.65],[610,645,1.75],[630,625,1.6],[640,600,1.55],[655,575,1.5],[665,560,1.45],[680,555,1.42],[690,540,1.4],[695,575,1.48],[700,580,1.5],[715,575,1.48],[725,560,1.42],[740,550,1.4],[730,530,1.35],[715,520,1.32],[705,510,1.3],[685,515,1.3],[670,520,1.32],[660,535,1.35],[640,545,1.38],[660,600,1.6],[670,610,1.62],[680,600,1.58],[690,610,1.6],[700,605,1.58],[710,615,1.6],[730,605,1.55],[745,600,1.52],[760,590,1.48],[770,580,1.45],[780,570,1.42],[790,560,1.4],[800,540,1.35],[810,550,1.35],[815,525,1.3],[820,505,1.28],[805,510,1.3],[795,520,1.32],[785,525,1.35],[775,510,1.32],[760,520,1.35],[750,525,1.38],[745,500,1.3],[760,490,1.28],[780,490,1.28],[790,500,1.3],[800,490,1.28],
[650,650,1.72],[665,660,1.75],[675,655,1.75],[685,650,1.72],[700,655,1.75],[710,665,1.78],[720,660,1.78],[730,650,1.75],[740,640,1.7],[745,625,1.65],[730,630,1.68],[715,635,1.7],[700,635,1.7],[690,630,1.68],[705,645,1.72],[735,665,1.78],[700,670,1.78],[720,640,1.72]
];

// colorbar value ranges and ticks
const gravityRange = [0.113, 3.515];
const gravityTicks = [0.5, 1.0, 1.5, 2.0, 2.5, 3.0, 3.5];
const pushForceRange = [2, 18];
const pushForceTicks = [2, 4, 6, 8, 10, 12, 14, 16, 18];
const poleLengthRange = [0.149, 0.85];
const poleLengthTicks = [0.2, 0.3, 0.4, 0.5, 0.6, 0.7, 0.8];
const dampingRange = [0.21, 1.80];
const dampingTicks = [0.4, 0.6, 0.8, 1.0, 1.2, 1.4, 1.6];
const massRange = [0.21, 1.80];
const massTicks = [0.4, 0.6, 0.8, 1.0, 1.2, 1.4, 1.6];

const colorbarLabels = ['Mountain Car gravity', 'Push force', 'Pole length', 'Joints damping', 'Half Cheetah mass'];
const captions = ['(a) MountainCar: gravity', '(b) CartPole: push force', '(c) CartPole: pole length', "(d) HalfCheetah: joints\u2019 damping", "(e) HalfCheetah: links\u2019 mass"];

// ---- layout ----
const panels = [
  {data: mountainCarGravity, xr: [17, 862], yr: [30, 690], box: [6, 10, 281, 220], range: gravityRange, ticks: gravityTicks, dec: 1, bar: [305, 10, 15, 220], gap: 21},
  {data: cartPolePushForce, xr: [10, 866], yr: [12, 677], box: [358, 4, 286, 222], range: pushForceRange, ticks: pushForceTicks, dec: 0, bar: [661, 4, 15, 222], gap: 18},
  {data: cartPolePoleLength, xr: [22, 870], yr: [5, 690], box: [712, 2, 283, 228], range: poleLengthRange, ticks: poleLengthTicks, dec: 1, bar: [1011, 2, 15, 228], gap: 20},
  {data: halfCheetahDamping, xr: [22, 866], yr: [12, 700], box: [182, 274, 282, 229], range: dampingRange, ticks: dampingTicks, dec: 1, bar: [481, 274, 14, 229], gap: 21},
  {data: halfCheetahMass, xr: [22, 862], yr: [12, 700], box: [537, 274, 280, 229], range: massRange, ticks: massTicks, dec: 1, bar: [836, 274, 14, 229], gap: 22}
];
const captionPos = [[60, 247], [417, 247], [770, 247], [199, 521], [573, 521]];

const grid = [], xAxis = [], yAxis = [], series = [], visualMap = [], title = [];
const TXT = '#333';
panels.forEach((p, i) => {
  grid.push({left: p.box[0], top: p.box[1], width: p.box[2], height: p.box[3], show: true, borderColor: '#3c3c3c', borderWidth: 1.2, backgroundColor: '#fff'});
  grid.push({left: p.bar[0], top: p.bar[1], width: p.bar[2], height: p.bar[3], show: true, borderColor: '#3c3c3c', borderWidth: 1, z: 10});
  xAxis.push({type: 'value', gridIndex: 2 * i, min: p.xr[0], max: p.xr[1], show: false});
  yAxis.push({type: 'value', gridIndex: 2 * i, min: p.yr[0], max: p.yr[1], inverse: true, show: false});
  xAxis.push({type: 'value', gridIndex: 2 * i + 1, min: 0, max: 1, show: false});
  yAxis.push({
    type: 'value', gridIndex: 2 * i + 1, position: 'right', min: p.range[0], max: p.range[1],
    axisLine: {show: false}, splitLine: {show: false},
    axisTick: {show: true, length: 4, customValues: p.ticks, lineStyle: {color: TXT, width: 1}},
    axisLabel: {show: true, customValues: p.ticks, margin: 4, fontSize: 11, color: TXT, fontFamily: 'Liberation Sans',
      formatter: v => Number(v).toFixed(p.dec)},
    name: colorbarLabels[i], nameLocation: 'middle', nameRotate: 90, nameGap: p.gap,
    nameTextStyle: {fontSize: 14, color: TXT, fontFamily: 'Liberation Sans'}
  });
  series.push({
    type: 'scatter', xAxisIndex: 2 * i, yAxisIndex: 2 * i, data: p.data, symbolSize: 8.6,
    itemStyle: {borderColor: '#333', borderWidth: 0.9, opacity: 1}, emphasis: {disabled: true}, silent: true
  });
  visualMap.push({
    type: 'continuous', seriesIndex: i, dimension: 2, min: p.range[0], max: p.range[1],
    inRange: {color: RDBU}, show: true, calculable: false, hoverLink: false, padding: 0,
    left: p.bar[0], top: p.bar[1], itemWidth: p.bar[2], itemHeight: p.bar[3], text: null, showLabel: false
  });
  title.push({text: captions[i], left: captionPos[i][0], top: captionPos[i][1], padding: 0,
    textStyle: {fontFamily: 'Liberation Serif', fontSize: 22.6, fontWeight: 'normal', color: '#000'}});
});

const chart = echarts.init(document.getElementById('c'), null, {renderer: 'canvas'});
chart.setOption({
  animation: false, backgroundColor: '#fff',
  grid, xAxis, yAxis, series, visualMap, title,
  graphic: [{type: 'text', left: 296, top: -2, style: {text: '1e-3', fontSize: 11, fill: TXT, fontFamily: 'Liberation Sans'}}]
});
</script></body></html>
